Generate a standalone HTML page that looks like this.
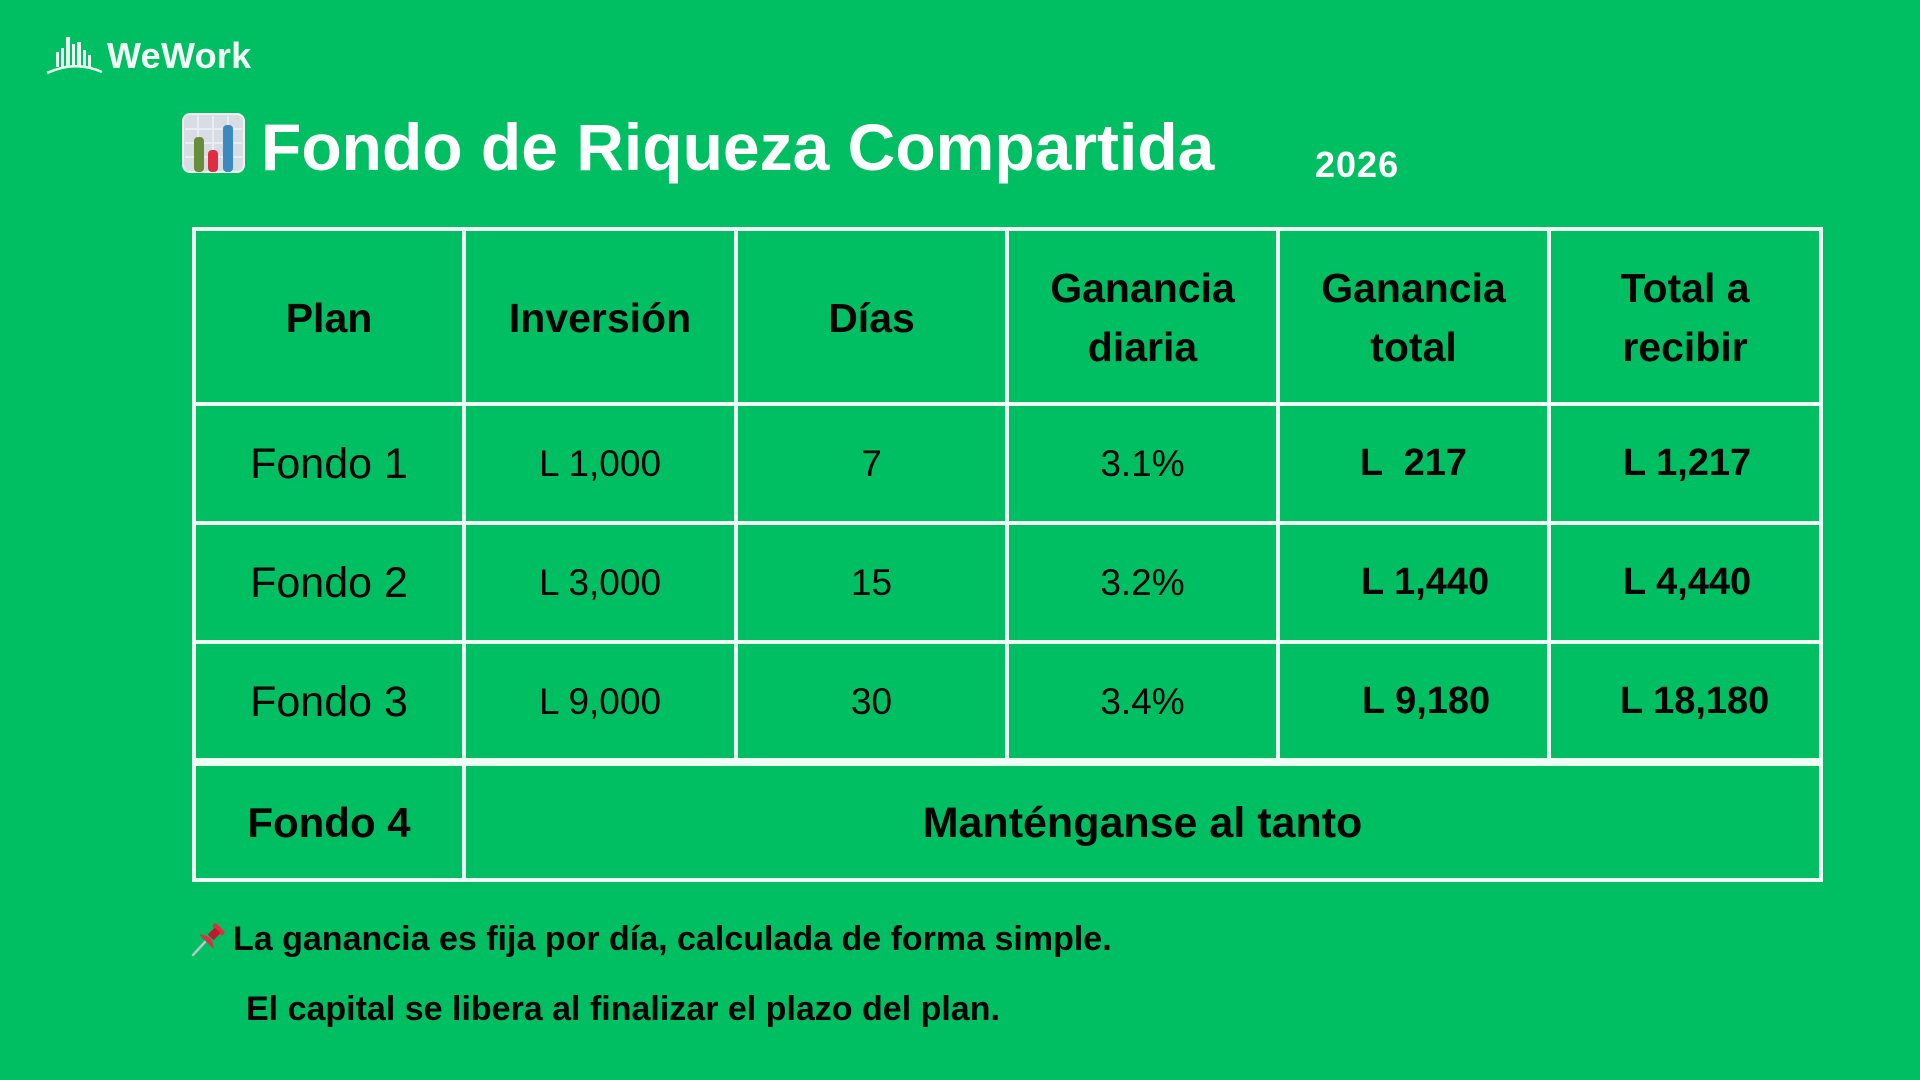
<!DOCTYPE html>
<html>
<head>
<meta charset="utf-8">
<style>
  html,body{margin:0;padding:0;}
  body{width:1920px;height:1080px;background:#00bf63;position:relative;overflow:hidden;
       font-family:"Liberation Sans","DejaVu Sans",sans-serif;color:#050505;}
  .abs{position:absolute;}
  .h{position:absolute;background:#effff4;}
  .v{position:absolute;background:#effff4;}
  .cell{position:absolute;display:flex;align-items:center;justify-content:center;text-align:center;}
  .hd{font-weight:bold;font-size:41px;line-height:59px;}
  .plan{font-size:43px;line-height:1;}
  .reg{font-size:37px;line-height:1;}
  .bold{font-weight:bold;font-size:38px;line-height:1;}
  .lt{position:absolute;font-weight:bold;font-size:38px;line-height:1;white-space:pre;}
</style>
</head>
<body>

<!-- WeWork logo -->
<svg class="abs" style="left:46px;top:34px" width="58" height="42" viewBox="0 0 58 42">
  <g fill="#e9fff1">
    <rect x="10" y="18" width="3" height="15"/>
    <rect x="15" y="14" width="3" height="19"/>
    <rect x="20" y="3" width="4" height="30"/>
    <rect x="26" y="10" width="3" height="23"/>
    <rect x="31" y="8" width="4" height="25"/>
    <rect x="37" y="16" width="3" height="17"/>
    <rect x="42" y="21" width="3" height="12"/>
  </g>
  <path d="M1 39 Q29 26 56 38" stroke="#e9fff1" stroke-width="2.4" fill="none"/>
</svg>
<div class="abs" style="left:107px;top:38px;font-size:36px;line-height:1;font-weight:bold;color:#f2fff6;letter-spacing:0.3px;">WeWork</div>

<!-- chart emoji -->
<svg class="abs" style="left:182px;top:113px" width="63" height="60" viewBox="0 0 63 60">
  <rect x="1" y="1" width="61" height="58" rx="7" fill="#d7dde3" stroke="#eef5f1" stroke-width="2"/>
  <g stroke="#e9edf1" stroke-width="2">
    <line x1="16" y1="3" x2="16" y2="57"/>
    <line x1="31" y1="3" x2="31" y2="57"/>
    <line x1="46" y1="3" x2="46" y2="57"/>
    <line x1="3" y1="16" x2="60" y2="16"/>
    <line x1="3" y1="30" x2="60" y2="30"/>
    <line x1="3" y1="44" x2="60" y2="44"/>
  </g>
  <rect x="12" y="24" width="10" height="35" rx="4" fill="#678d3a"/>
  <rect x="26" y="37" width="10" height="22" rx="4" fill="#dd2e44"/>
  <rect x="41" y="12" width="10" height="47" rx="4" fill="#3b88c3"/>
</svg>
<div class="abs" style="left:261px;top:114px;font-size:66px;line-height:1;font-weight:bold;color:#ffffff;">Fondo de Riqueza Compartida</div>
<div class="abs" style="left:1315px;top:147px;font-size:36px;line-height:1;font-weight:bold;color:#ffffff;letter-spacing:1px;">2026</div>

<!-- table lines -->
<div class="h" style="left:192px;top:227px;width:1631px;height:4px"></div>
<div class="h" style="left:192px;top:402px;width:1631px;height:4px"></div>
<div class="h" style="left:192px;top:521px;width:1631px;height:4px"></div>
<div class="h" style="left:192px;top:640px;width:1631px;height:4px"></div>
<div class="h" style="left:192px;top:758px;width:1631px;height:8px"></div>
<div class="h" style="left:192px;top:878px;width:1631px;height:4px"></div>

<div class="v" style="left:192px;top:227px;width:4px;height:655px"></div>
<div class="v" style="left:462px;top:227px;width:4px;height:655px"></div>
<div class="v" style="left:734px;top:227px;width:4px;height:535px"></div>
<div class="v" style="left:1005px;top:227px;width:4px;height:535px"></div>
<div class="v" style="left:1276px;top:227px;width:4px;height:535px"></div>
<div class="v" style="left:1547px;top:227px;width:4px;height:535px"></div>
<div class="v" style="left:1819px;top:227px;width:4px;height:655px"></div>

<!-- header -->
<div class="cell hd" style="left:194px;top:231px;width:270px;height:175px">Plan</div>
<div class="cell hd" style="left:464px;top:231px;width:272px;height:175px">Inversión</div>
<div class="cell hd" style="left:736px;top:231px;width:271px;height:175px">Días</div>
<div class="cell hd" style="left:1007px;top:230px;width:271px;height:175px">Ganancia<br>diaria</div>
<div class="cell hd" style="left:1278px;top:230px;width:271px;height:175px">Ganancia<br>total</div>
<div class="cell hd" style="left:1549px;top:230px;width:272px;height:175px">Total a<br>recibir</div>

<!-- row 1 -->
<div class="cell plan" style="left:194px;top:405px;width:270px;height:119px">Fondo 1</div>
<div class="cell reg" style="left:464px;top:404px;width:272px;height:119px">L 1,000</div>
<div class="cell reg" style="left:736px;top:404px;width:271px;height:119px">7</div>
<div class="cell reg" style="left:1007px;top:404px;width:271px;height:119px">3.1%</div>
<div class="lt" style="left:1360px;top:444px;">L  217</div>
<div class="lt" style="left:1623px;top:444px;">L 1,217</div>

<!-- row 2 -->
<div class="cell plan" style="left:194px;top:524px;width:270px;height:119px">Fondo 2</div>
<div class="cell reg" style="left:464px;top:523px;width:272px;height:119px">L 3,000</div>
<div class="cell reg" style="left:736px;top:523px;width:271px;height:119px">15</div>
<div class="cell reg" style="left:1007px;top:523px;width:271px;height:119px">3.2%</div>
<div class="lt" style="left:1361px;top:563px;">L 1,440</div>
<div class="lt" style="left:1623px;top:563px;">L 4,440</div>

<!-- row 3 -->
<div class="cell plan" style="left:194px;top:643px;width:270px;height:118px">Fondo 3</div>
<div class="cell reg" style="left:464px;top:642px;width:272px;height:118px">L 9,000</div>
<div class="cell reg" style="left:736px;top:642px;width:271px;height:118px">30</div>
<div class="cell reg" style="left:1007px;top:642px;width:271px;height:118px">3.4%</div>
<div class="lt" style="left:1362px;top:682px;">L 9,180</div>
<div class="lt" style="left:1620px;top:682px;">L 18,180</div>

<!-- row 4 -->
<div class="cell" style="left:194px;top:766px;width:270px;height:114px;font-weight:bold;font-size:42px;line-height:1;">Fondo 4</div>
<div class="cell" style="left:464px;top:766px;width:1357px;height:114px;font-weight:bold;font-size:43px;line-height:1;">Manténganse al tanto</div>

<!-- pushpin -->
<svg class="abs" style="left:190px;top:922px" width="36" height="36" viewBox="0 0 36 36">
  <line x1="3" y1="33" x2="15" y2="20" stroke="#b8c4cc" stroke-width="2.5" stroke-linecap="round"/>
  <g transform="rotate(45 22 14)">
    <rect x="15" y="2" width="14" height="5" rx="2" fill="#dd2e44"/>
    <rect x="18" y="6" width="8" height="10" fill="#be1931"/>
    <path d="M12 22 Q22 12 32 22 Z" fill="#dd2e44"/>
  </g>
</svg>
<div class="abs" style="left:233px;top:922px;font-size:34px;line-height:1;font-weight:bold;white-space:nowrap;">La ganancia es fija por día, calculada de forma simple.</div>
<div class="abs" style="left:246px;top:992px;font-size:34px;line-height:1;font-weight:bold;white-space:nowrap;">El capital se libera al finalizar el plazo del plan.</div>

</body>
</html>
